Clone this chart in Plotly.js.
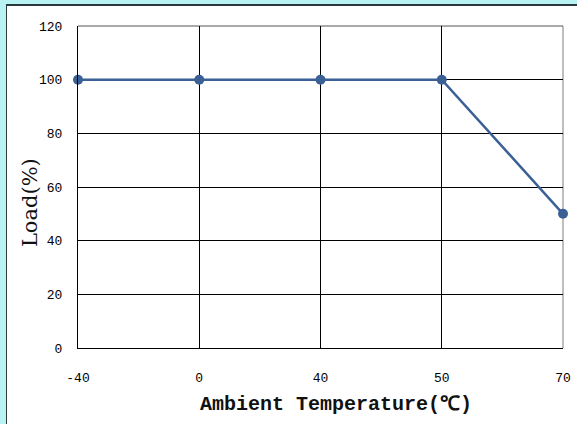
<!DOCTYPE html>
<html>
<head>
<meta charset="utf-8">
<script src="https://cdn.plot.ly/plotly-3.0.1.min.js"></script>
<style>
html,body{margin:0;padding:0;background:#fff;}
#wrap{position:relative;width:577px;height:424px;overflow:hidden;}
#chart{position:absolute;left:0;top:0;width:577px;height:424px;}
.ov{position:absolute;pointer-events:none;}
</style>
</head>
<body>
<div id="wrap">
<div id="chart"></div>
<div class="ov" style="left:0;top:0;width:577px;height:4px;background:#b8f2f2;"></div>
<div class="ov" style="left:0;top:0;width:6px;height:424px;background:#b8f2f2;"></div>
<div class="ov" style="left:6px;top:4px;width:571px;height:2px;background:#2a3a3a;"></div>
<div class="ov" style="left:6px;top:4px;width:1px;height:420px;background:#2a3a3a;"></div>
</div>
<script>
const temperatures = ['-40', '0', '40', '50', '70'];
const loadPct = [100, 100, 100, 100, 50];
const yTicks = [0, 20, 40, 60, 80, 100, 120];
const xTitle = 'Ambient Temperature(℃)';
const yTitle = 'Load(%)';

const trace = {
  x: temperatures,
  y: loadPct,
  type: 'scatter',
  mode: 'lines+markers',
  line: {color: '#3b6096', width: 2.5},
  marker: {color: '#3b6096', size: 10},
  cliponaxis: false,
  hoverinfo: 'none'
};

const tickFont = {family: 'Liberation Mono', size: 13, color: '#000'};

const layout = {
  width: 577,
  height: 424,
  margin: {l: 78, r: 14, t: 26, b: 76},
  paper_bgcolor: '#ffffff',
  plot_bgcolor: '#ffffff',
  showlegend: false,
  xaxis: {
    type: 'category',
    range: [0, 4],
    showgrid: true,
    gridcolor: '#000000',
    gridwidth: 1,
    showline: true,
    linecolor: '#000000',
    linewidth: 1,
    ticks: '',
    zeroline: false,
    tickfont: tickFont,
    ticklabelstandoff: 17
  },
  yaxis: {
    range: [0, 120],
    tickvals: yTicks,
    ticktext: yTicks.map(String),
    showgrid: true,
    gridcolor: '#000000',
    gridwidth: 1,
    showline: true,
    linecolor: '#000000',
    linewidth: 1,
    ticks: '',
    zeroline: false,
    tickfont: tickFont,
    ticklabelstandoff: 12
  },
  annotations: [
    {text: xTitle, xref: 'paper', yref: 'paper', x: 0.532, y: -0.177, xanchor: 'center', yanchor: 'middle', showarrow: false,
     font: {family: 'Liberation Mono', size: 20, color: '#111', weight: 'bold'}},
    {text: yTitle, xref: 'paper', yref: 'paper', x: -0.099, y: 0.453, xanchor: 'center', yanchor: 'middle', showarrow: false, textangle: -90,
     font: {family: 'DejaVu Serif', size: 21, color: '#111'}}
  ],
  shapes: [
    {type: 'line', xref: 'paper', yref: 'paper', x0: 1, x1: 1, y0: 0, y1: 1, line: {color: '#aaaaaa', width: 1.5}, layer: 'below'},
    {type: 'line', xref: 'paper', yref: 'paper', x0: 0, x1: 1, y0: 1, y1: 1, line: {color: '#555555', width: 1}, layer: 'below'}
  ]
};

Plotly.newPlot('chart', [trace], layout, {displayModeBar: false, staticPlot: true});
</script>
</body>
</html>
